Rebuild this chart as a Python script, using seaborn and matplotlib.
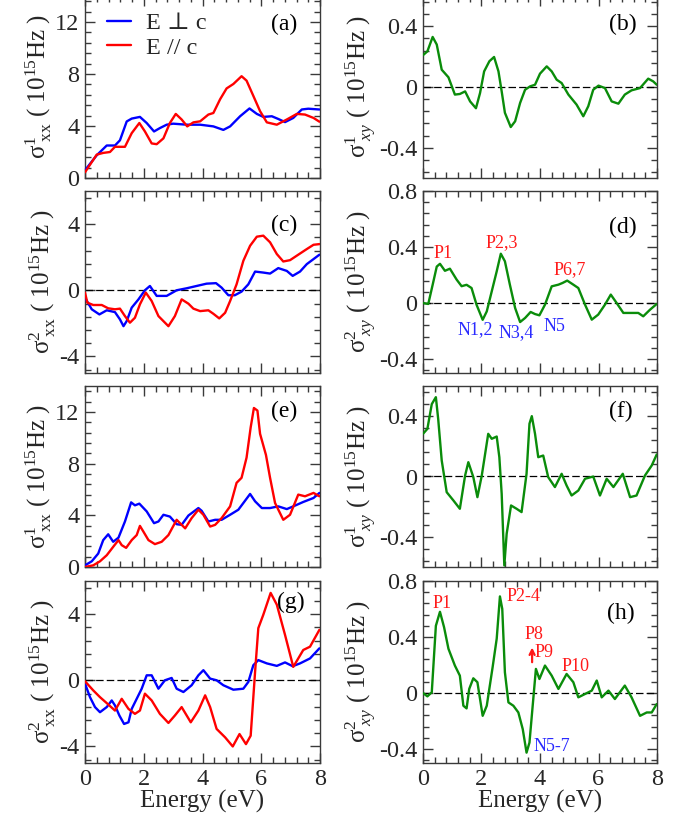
import numpy as np
import pandas as pd
import matplotlib
matplotlib.use("Agg")
import matplotlib.pyplot as plt
import seaborn as sns
from matplotlib.ticker import MultipleLocator, FuncFormatter
from matplotlib.font_manager import FontProperties

# ---------------- data ----------------
# (a) sigma1_xx, panel top-left
a_perp_E = [0, 0.4, 0.74, 1.02, 1.19, 1.42, 1.59, 1.87, 2.1, 2.35, 2.55, 2.78, 3.0, 3.46, 3.92, 4.37, 4.71, 4.94,
            5.28, 5.6, 5.85, 6.07, 6.36, 6.58, 6.81, 7.09, 7.38, 7.6, 7.98]
a_perp_S = [0.6, 1.75, 2.5, 2.5, 2.9, 4.35, 4.57, 4.7, 4.23, 3.58, 3.84, 4.1, 4.18, 4.1, 4.1, 3.97, 3.7, 3.97,
            4.75, 5.35, 4.93, 4.7, 4.75, 4.54, 4.3, 4.62, 5.27, 5.33, 5.27]
a_par_E = [0, 0.4, 0.62, 0.85, 1.02, 1.19, 1.36, 1.59, 1.85, 2.04, 2.27, 2.44, 2.67, 2.89, 3.09, 3.29, 3.48, 3.69,
           3.92, 4.2, 4.37, 4.6, 4.82, 5.05, 5.33, 5.5, 5.73, 5.96, 6.19, 6.53, 6.87, 7.21, 7.49, 7.78, 7.98]
a_par_S = [0.44, 1.8, 1.93, 2.0, 2.4, 2.4, 2.4, 3.45, 4.23, 3.58, 2.66, 2.6, 3.05, 4.23, 4.93, 4.5, 3.97, 4.28,
           4.36, 4.88, 5.0, 6.06, 6.89, 7.23, 7.83, 7.49, 6.32, 5.14, 4.28, 4.1, 4.5, 4.93, 4.88, 4.62, 4.33]

# (b) sigma1_xy
b_E = [0, 0.15, 0.33, 0.47, 0.64, 0.87, 1.09, 1.26, 1.44, 1.61, 1.81, 1.95, 2.09, 2.27, 2.43, 2.58, 2.69, 2.8,
       3.0, 3.15, 3.32, 3.49, 3.66, 3.83, 4.0, 4.23, 4.4, 4.57, 4.74, 4.97, 5.25, 5.48, 5.65, 5.82, 6.0, 6.22,
       6.45, 6.68, 6.9, 7.13, 7.42, 7.7, 7.87, 7.99]
b_S = [0.21, 0.235, 0.33, 0.28, 0.114, 0.064, -0.05, -0.046, -0.029, -0.095, -0.14, -0.04, 0.103, 0.17, 0.198,
       0.103, -0.029, -0.17, -0.264, -0.226, -0.105, -0.018, 0.004, 0.015, 0.088, 0.136, 0.103, 0.048, 0.026,
       -0.05, -0.116, -0.193, -0.127, -0.018, 0.009, -0.007, -0.095, -0.11, -0.05, -0.022, -0.007, 0.055, 0.037,
       0.015]

# (c) sigma2_xx
c_perp_E = [0, 0.23, 0.49, 0.74, 1.02, 1.19, 1.31, 1.42, 1.59, 1.82, 2.04, 2.21, 2.44, 2.78, 3.12, 3.46, 3.8,
            4.14, 4.46, 4.65, 4.88, 5.1, 5.33, 5.56, 5.79, 6.07, 6.3, 6.58, 6.87, 7.07, 7.32, 7.55, 7.98]
c_perp_S = [-0.45, -1.15, -1.46, -1.21, -1.32, -1.76, -2.17, -1.86, -1.05, -0.55, 0.0, 0.26, -0.34, -0.34, 0.0,
            0.12, 0.26, 0.4, 0.43, 0.16, -0.3, -0.3, -0.08, 0.36, 1.13, 1.07, 1.01, 1.34, 1.17, 0.87, 1.13, 1.58,
            2.15]
c_par_E = [0, 0.08, 0.28, 0.57, 0.79, 1.02, 1.19, 1.36, 1.53, 1.7, 1.87, 2.07, 2.27, 2.5, 2.84, 3.06, 3.29, 3.52,
           3.69, 3.92, 4.2, 4.37, 4.57, 4.77, 4.94, 5.16, 5.39, 5.62, 5.85, 6.07, 6.3, 6.53, 6.75, 6.98, 7.26,
           7.55, 7.78, 7.98]
c_par_S = [-0.14, -0.75, -0.89, -0.89, -1.09, -1.15, -1.11, -1.56, -1.96, -1.66, -0.85, -0.14, -0.65, -1.56,
           -2.17, -1.56, -0.55, -0.81, -1.11, -1.26, -1.21, -1.42, -1.7, -1.36, -0.65, 0.36, 1.78, 2.69, 3.24,
           3.3, 2.9, 2.19, 1.74, 1.82, 2.15, 2.49, 2.75, 2.79]

# (d) sigma2_xy
d_E = [0, 0.18, 0.33, 0.47, 0.58, 0.75, 0.92, 1.15, 1.32, 1.49, 1.66, 1.83, 2.04, 2.18, 2.35, 2.52, 2.66, 2.8,
       2.97, 3.15, 3.32, 3.49, 3.68, 3.83, 3.98, 4.17, 4.4, 4.63, 4.77, 4.93, 5.14, 5.31, 5.54, 5.77, 5.99,
       6.22, 6.42, 6.62, 6.85, 7.13, 7.36, 7.53, 7.76, 7.99]
d_S = [0.0, -0.007, 0.13, 0.26, 0.28, 0.23, 0.245, 0.167, 0.12, 0.13, 0.107, -0.012, -0.12, -0.06, 0.083, 0.226,
       0.352, 0.298, 0.131, -0.036, -0.136, -0.107, -0.064, -0.079, -0.088, -0.012, 0.119, 0.131, 0.143, 0.16,
       0.131, 0.107, -0.012, -0.119, -0.083, -0.012, 0.06, 0.0, -0.071, -0.071, -0.071, -0.095, -0.048, -0.007]

# (e) sigma1_xx
e_perp_E = [0, 0.23, 0.45, 0.62, 0.79, 0.96, 1.14, 1.36, 1.57, 1.7, 1.85, 2.1, 2.35, 2.5, 2.67, 2.89, 3.12, 3.29,
            3.52, 3.86, 3.97, 4.2, 4.43, 4.65, 4.94, 5.22, 5.45, 5.62, 5.79, 6.02, 6.3, 6.58, 6.87, 7.09, 7.43,
            7.78, 7.98]
e_perp_S = [0.13, 0.44, 1.04, 2.08, 2.53, 1.95, 2.27, 3.52, 5.0, 4.77, 4.9, 4.3, 3.39, 3.52, 4.04, 3.9, 3.31,
            3.26, 3.98, 4.56, 4.35, 3.52, 3.65, 3.65, 4.04, 4.43, 5.13, 5.65, 5.08, 4.56, 4.56, 4.69, 4.48, 4.69,
            5.03, 5.34, 5.73]
e_par_E = [0, 0.28, 0.51, 0.74, 0.96, 1.14, 1.25, 1.4, 1.59, 1.76, 1.87, 1.99, 2.16, 2.38, 2.61, 2.84, 3.12,
           3.41, 3.63, 3.86, 4.03, 4.26, 4.43, 4.65, 4.94, 5.16, 5.33, 5.5, 5.64, 5.75, 5.87, 5.96, 6.16, 6.3,
           6.47, 6.75, 6.98, 7.26, 7.49, 7.78, 7.98]
e_par_S = [0.0, 0.13, 0.44, 0.91, 1.56, 2.08, 1.69, 1.48, 2.08, 2.47, 3.18, 2.73, 2.08, 1.77, 1.95, 2.47, 3.65,
           2.99, 3.78, 4.43, 4.04, 3.13, 3.26, 3.78, 4.69, 6.51, 6.9, 8.46, 10.8, 12.3, 12.1, 10.3, 8.67, 6.9,
           4.95, 3.65, 4.04, 5.6, 5.47, 5.73, 5.47]

# (f) sigma1_xy
f_E = [0, 0.15, 0.3, 0.44, 0.52, 0.64, 0.81, 1.04, 1.26, 1.44, 1.55, 1.72, 1.86, 2.01, 2.23, 2.35, 2.52, 2.61,
       2.69, 2.78, 2.86, 3.01, 3.2, 3.37, 3.54, 3.64, 3.72, 3.83, 3.94, 4.11, 4.28, 4.51, 4.74, 4.91, 5.08, 5.31,
       5.54, 5.82, 6.05, 6.28, 6.51, 6.83, 7.08, 7.3, 7.59, 7.82, 7.99]
f_S = [0.283, 0.316, 0.48, 0.526, 0.38, 0.106, -0.104, -0.159, -0.214, 0.007, 0.095, -0.004, -0.137, 0.007,
       0.283, 0.25, 0.265, 0.128, -0.115, -0.59, -0.38, -0.192, -0.214, -0.236, 0.018, 0.35, 0.40, 0.283, 0.128,
       0.139, -0.004, -0.07, 0.018, -0.06, -0.126, -0.093, -0.015, 0.0, -0.126, -0.015, -0.07, 0.018, -0.137,
       -0.126, 0.007, 0.073, 0.146]

# (g) sigma2_xx
g_perp_E = [0, 0.17, 0.34, 0.51, 0.74, 0.91, 1.02, 1.17, 1.33, 1.48, 1.59, 1.76, 1.93, 2.1, 2.27, 2.5, 2.72,
            2.95, 3.12, 3.35, 3.63, 3.86, 4.03, 4.26, 4.48, 4.71, 5.05, 5.39, 5.56, 5.73, 5.9, 6.19, 6.53, 6.81,
            7.07, 7.32, 7.66, 7.98]
g_perp_S = [-0.2, -1.02, -1.62, -1.93, -1.62, -1.22, -1.52, -2.13, -2.64, -2.54, -1.73, -1.12, -0.51, 0.3, 0.3,
            -0.51, 0.0, 0.14, -0.51, -0.71, -0.3, 0.3, 0.61, 0.1, 0.0, -0.3, -0.57, -0.51, -0.1, 0.91, 1.22, 1.02,
            0.87, 1.08, 0.85, 1.02, 1.32, 1.93]
g_par_E = [0, 0.28, 0.51, 0.74, 1.02, 1.25, 1.48, 1.7, 1.87, 2.04, 2.27, 2.55, 2.84, 3.06, 3.29, 3.6, 3.86, 4.09,
           4.26, 4.48, 4.77, 5.03, 5.26, 5.48, 5.64, 5.79, 5.9, 6.07, 6.32, 6.53, 6.81, 7.09, 7.26, 7.43, 7.66,
           7.98]
g_par_S = [-0.06, -0.61, -1.02, -1.38, -1.83, -1.12, -1.73, -2.03, -1.83, -0.81, -1.22, -2.03, -2.58, -2.13,
           -1.62, -2.54, -1.83, -0.91, -1.62, -2.94, -3.45, -4.0, -3.25, -3.86, -3.35, 0.51, 3.15, 3.96, 5.28,
           4.57, 2.74, 0.81, 1.32, 1.83, 2.03, 3.05]

# (h) sigma2_xy
h_E = [0, 0.15, 0.3, 0.44, 0.58, 0.72, 0.87, 1.09, 1.26, 1.38, 1.49, 1.58, 1.72, 1.86, 2.04, 2.18, 2.38, 2.52,
       2.63, 2.71, 2.8, 2.92, 3.09, 3.26, 3.41, 3.54, 3.64, 3.75, 3.86, 3.98, 4.17, 4.4, 4.63, 4.91, 5.14, 5.31,
       5.54, 5.77, 5.94, 6.11, 6.34, 6.56, 6.9, 7.13, 7.42, 7.65, 7.82, 7.99]
h_S = [0.0, -0.024, 0.005, 0.48, 0.58, 0.47, 0.316, 0.196, 0.124, -0.091, -0.11, 0.029, 0.105, 0.077, -0.163,
       -0.091, 0.184, 0.388, 0.69, 0.60, 0.148, -0.067, -0.091, -0.139, -0.258, -0.426, -0.354, -0.091, 0.172,
       0.1, 0.196, 0.124, 0.029, 0.136, 0.077, -0.031, -0.007, 0.017, 0.089, -0.031, 0.017, -0.043, 0.053,
       -0.031, -0.163, -0.139, -0.139, -0.079]

legend_labels = ["E \u22a5 c", "E // c"]
panel_letters = ["(a)", "(b)", "(c)", "(d)", "(e)", "(f)", "(g)", "(h)"]
d_notes = [("P1", 0.67, 0.35, "r"), ("P2,3", 2.7, 0.43, "r"), ("P6,7", 5.03, 0.236, "r"),
           ("N1,2", 1.8, -0.19, "b"), ("N3,4", 3.2, -0.21, "b"), ("N5", 4.48, -0.17, "b")]
h_notes = [("P1", 0.65, 0.64, "r"), ("P2-4", 3.42, 0.69, "r"), ("P8", 3.8, 0.42, "r"),
           ("P9", 4.14, 0.29, "r"), ("P10", 5.2, 0.19, "r"), ("N5-7", 4.41, -0.385, "b")]
xticks = [0, 2, 4, 6, 8]

# ---------------- style ----------------
sns.set_theme(style="ticks")
plt.rcParams.update({
    "font.family": ["Liberation Serif", "DejaVu Serif"],
    "mathtext.fontset": "custom",
    "mathtext.rm": "Liberation Serif",
    "mathtext.it": "Liberation Serif:italic",
    "mathtext.bf": "Liberation Serif:bold",
    "axes.unicode_minus": False,
    "axes.edgecolor": "#3a3a3a",
    "axes.linewidth": 1.0,
})

BLUE = "#0000ff"
RED = "#ff0000"
GREEN = "#0a8c0a"
NOTE_C = {"r": "#ff1a1a", "b": "#2a2aff"}

W, H = 695, 822
fig = plt.figure(figsize=(W / 100, H / 100), dpi=100)

cols = [(85, 320), (423, 657)]
rows = [(-4, 178), (191, 373), (386, 567), (581, 763)]

tick_fmt = FuncFormatter(lambda v, p: "0" if abs(v) < 1e-9 else f"{v:g}")


def make_ax(ci, ri):
    l, r = cols[ci]
    t, b = rows[ri]
    return fig.add_axes([l / W, 1 - b / H, (r - l) / W, (b - t) / H])


def style_ax(ax, ylim, major, minor, ylabel, bottom_row):
    ax.set_xlim(0, 8)
    ax.set_ylim(*ylim)
    ax.xaxis.set_major_locator(MultipleLocator(2))
    ax.xaxis.set_minor_locator(MultipleLocator(0.4))
    ax.yaxis.set_major_locator(MultipleLocator(major))
    ax.yaxis.set_minor_locator(MultipleLocator(minor))
    ax.yaxis.set_major_formatter(tick_fmt)
    ax.xaxis.set_major_formatter(tick_fmt)
    ax.tick_params(which="both", direction="in", top=True, right=True, color="#3a3a3a", width=1.0)
    ax.tick_params(which="major", length=7, labelsize=17.5, pad=4)
    ax.tick_params(which="minor", length=4)
    ax.set_ylabel(ylabel, fontsize=18, labelpad=1)
    if bottom_row:
        ax.set_xlabel("Energy (eV)", fontsize=18, labelpad=0)
    else:
        ax.set_xlabel("")
        ax.tick_params(labelbottom=False)
    for s in ax.spines.values():
        s.set_visible(True)


def zero_line(ax):
    ax.axhline(0, color="black", lw=0.9, ls=(0, (6, 2.5)), zorder=1)


def curve(ax, E, S, color, label=None):
    df = pd.DataFrame({"E": E, "S": S})
    kw = {}
    if label is not None:
        kw["label"] = label
    sns.lineplot(data=df, x="E", y="S", color=color, lw=1.7, ax=ax, estimator=None, sort=False,
                 zorder=3, **kw)


lab_xx = [r"$\mathrm{\sigma}^{1}_{\ \mathrm{xx}}$ ( 10$^{15}$Hz )", r"$\mathrm{\sigma}^{2}_{\ \mathrm{xx}}$ ( 10$^{15}$Hz )"]
lab_xy = [r"$\mathrm{\sigma}^{1}_{\ xy}$ ( 10$^{15}$Hz )", r"$\mathrm{\sigma}^{2}_{\ xy}$ ( 10$^{15}$Hz )"]

# ---- left column ----
axa = make_ax(0, 0)
curve(axa, a_perp_E, a_perp_S, BLUE, legend_labels[0])
curve(axa, a_par_E, a_par_S, RED, legend_labels[1])
style_ax(axa, (0, 14), 4, 0.8, lab_xx[0], False)
axa.legend(loc="upper left", bbox_to_anchor=(0.094, 0.91), frameon=False, borderaxespad=0, borderpad=0,
           handlelength=1.0, handletextpad=0.6, labelspacing=0.1,
           prop=FontProperties(family=["Liberation Serif", "DejaVu Serif"], size=17.5))

axc = make_ax(0, 1)
zero_line(axc)
curve(axc, c_perp_E, c_perp_S, BLUE)
curve(axc, c_par_E, c_par_S, RED)
style_ax(axc, (-5, 6), 4, 0.8, lab_xx[1], False)

axe = make_ax(0, 2)
curve(axe, e_perp_E, e_perp_S, BLUE)
curve(axe, e_par_E, e_par_S, RED)
style_ax(axe, (0, 14), 4, 0.8, lab_xx[0], False)

axg = make_ax(0, 3)
zero_line(axg)
curve(axg, g_perp_E, g_perp_S, BLUE)
curve(axg, g_par_E, g_par_S, RED)
style_ax(axg, (-5, 6), 4, 0.8, lab_xx[1], True)

# ---- right column ----
axb = make_ax(1, 0)
zero_line(axb)
curve(axb, b_E, b_S, GREEN)
style_ax(axb, (-0.6, 0.6), 0.4, 0.08, lab_xy[0], False)

axd = make_ax(1, 1)
zero_line(axd)
curve(axd, d_E, d_S, GREEN)
style_ax(axd, (-0.5, 0.8), 0.4, 0.08, lab_xy[1], False)

axf = make_ax(1, 2)
zero_line(axf)
curve(axf, f_E, f_S, GREEN)
style_ax(axf, (-0.6, 0.6), 0.4, 0.08, lab_xy[0], False)

axh = make_ax(1, 3)
zero_line(axh)
curve(axh, h_E, h_S, GREEN)
style_ax(axh, (-0.5, 0.8), 0.4, 0.08, lab_xy[1], True)

for ax in (axg, axh):
    ax.set_xticks(xticks)
    ax.set_xticklabels([str(v) for v in xticks])

# panel letters (axes fraction positions)
letter_pos = [(axa, 0.902, 0.841), (axb, 0.915, 0.841), (axc, 0.902, 0.813), (axd, 0.915, 0.802),
              (axe, 0.902, 0.862), (axf, 0.897, 0.862), (axg, 0.936, 0.885), (axh, 0.906, 0.819)]
for (ax, x, y), t in zip(letter_pos, panel_letters):
    ax.text(x, y, t, transform=ax.transAxes, ha="right", va="center", fontsize=17, color="black", zorder=5)

for t, x, y, c in d_notes:
    axd.text(x, y, t, ha="center", va="center", fontsize=13, color=NOTE_C[c], zorder=5)
for t, x, y, c in h_notes:
    axh.text(x, y, t, ha="center", va="center", fontsize=13, color=NOTE_C[c], zorder=5)
axh.annotate("", xy=(3.73, 0.345), xytext=(3.73, 0.2),
             arrowprops=dict(arrowstyle="->", color=NOTE_C["r"], lw=1.6, mutation_scale=9), zorder=5)

fig.savefig("out.png", dpi=100)
